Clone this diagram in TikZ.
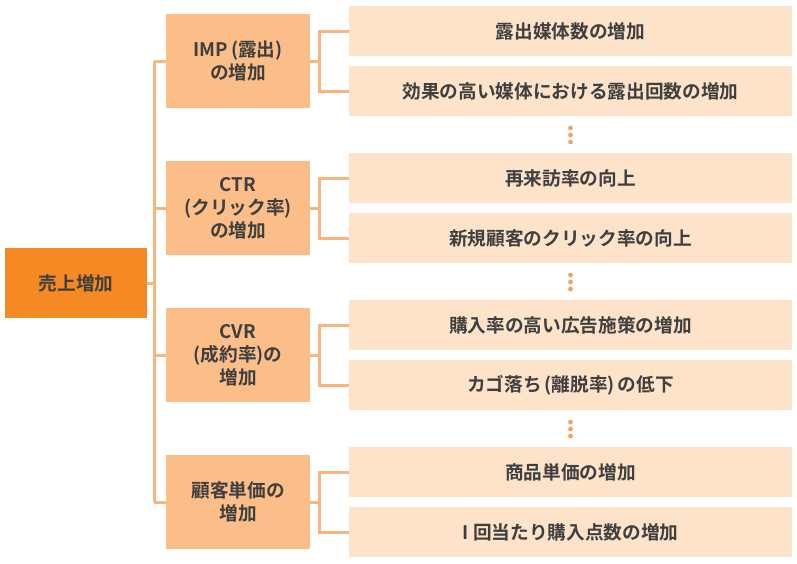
\documentclass[tikz,border=0pt]{standalone}
\usepackage{fontspec}
\setmainfont{Noto Sans CJK JP}[BoldFont={* Bold}]
\definecolor{rootc}{HTML}{F58A24}
\definecolor{midc}{HTML}{FBBE88}
\definecolor{leafc}{HTML}{FDE3CA}
\definecolor{linec}{HTML}{F6B67E}
\definecolor{dotc}{HTML}{F2A468}
\definecolor{txt}{HTML}{3F3F3F}
\tikzset{
  box/.style={draw=none, inner sep=0pt, outer sep=0pt, align=center, text=txt,
    font=\fontsize{14pt}{17.25pt}\selectfont\bfseries},
  rootbox/.style={box, fill=rootc, minimum width=142*0.75pt, minimum height=70*0.75pt},
  midbox/.style={box, fill=midc, minimum width=144*0.75pt, minimum height=94*0.75pt},
  leafbox/.style={box, fill=leafc, minimum width=443*0.75pt, minimum height=50*0.75pt},
  conn/.style={draw=linec, line width=2.25pt},
  vdot/.style={circle, fill=dotc, inner sep=0pt, minimum size=3.6pt}
}
\begin{document}
\begin{tikzpicture}[x=0.75pt,y=-0.75pt]
\useasboundingbox (0,0) rectangle (797,564);
% root
\node[rootbox] (root) at (76,283) {売上増加};
% middle nodes (group base y0 = 6 + 147k, center y0+55)
\node[midbox] (m1) at (238,61) {IMP\,(露出)\\の増加};
\node[midbox] (m2) at (238,208) {CTR\\(クリック率)\\の増加};
\node[midbox] (m3) at (238,355) {CVR\\(成約率)の\\増加};
\node[midbox] (m4) at (238,502) {顧客単価の\\増加};
% leaves (a: y0+25, b: y0+85)
\node[leafbox] (l1a) at (570.5,31) {露出媒体数の増加};
\node[leafbox] (l1b) at (570.5,91) {効果の高い媒体における露出回数の増加};
\node[leafbox] (l2a) at (570.5,178) {再来訪率の向上};
\node[leafbox] (l2b) at (570.5,238) {新規顧客のクリック率の向上};
\node[leafbox] (l3a) at (570.5,325) {購入率の高い広告施策の増加};
\node[leafbox] (l3b) at (570.5,385) {カゴ落ち\,(離脱率)\,の低下};
\node[leafbox] (l4a) at (570.5,472) {商品単価の増加};
\node[leafbox] (l4b) at (570.5,532) {I 回当たり購入点数の増加};
% trunk
\coordinate (tr) at (154,283);
\coordinate (t1) at (154,61);
\coordinate (t4) at (154,502);
\draw[conn] (root.east) -- (tr);
\draw[conn] (t1) -- (t4);
\draw[conn] (t1) -- (m1.west);
\draw[conn] (m2.west) -- (154,208);
\draw[conn] (m3.west) -- (154,355);
\draw[conn] (t4) -- (m4.west);
% branches
\foreach \m/\a/\b in {m1/l1a/l1b, m2/l2a/l2b, m3/l3a/l3b, m4/l4a/l4b}{
  \draw[conn] (\m.east) -- ++(9,0);
  \draw[conn] (\a.west) -| ([xshift=9*0.75pt]\m.east) |- (\b.west);
}
% dots
\foreach \y in {135,282,429}{
  \node[vdot] (d\y a) at (570.5,\y-7) {};
  \node[vdot] (d\y b) at (570.5,\y) {};
  \node[vdot] (d\y c) at (570.5,\y+7) {};
}
\end{tikzpicture}
\end{document}
